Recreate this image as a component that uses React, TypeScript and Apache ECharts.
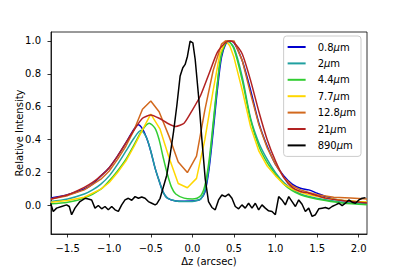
import React, { useEffect, useRef } from "react";
import * as echarts from "echarts";

const seriesNames = ["0.8μm", "2μm", "4.4μm", "7.7μm", "12.8μm", "21μm", "890μm"];
const seriesColors = ["#0000CD", "#20A0A0", "#32CD32", "#FFD700", "#D2691E", "#B22222", "#000000"];

const xTicks = [-1.5, -1.0, -0.5, 0.0, 0.5, 1.0, 1.5, 2.0];
const yTicks = [0.0, 0.2, 0.4, 0.6, 0.8, 1.0];

const blue08: number[][] = [
  [-1.7, 0.045], [-1.5, 0.065], [-1.3, 0.1], [-1.2, 0.13], [-1.1, 0.18], [-1.0, 0.23], [-0.9, 0.3],
  [-0.8, 0.38], [-0.7, 0.465], [-0.65, 0.49], [-0.6, 0.465], [-0.55, 0.41], [-0.5, 0.33], [-0.45, 0.23],
  [-0.4, 0.15], [-0.35, 0.08], [-0.3, 0.045], [-0.2, 0.028], [-0.1, 0.026], [0.0, 0.027], [0.05, 0.03],
  [0.1, 0.04], [0.15, 0.08], [0.2, 0.22], [0.25, 0.45], [0.3, 0.7], [0.35, 0.9], [0.4, 0.98], [0.45, 1.0],
  [0.5, 0.99], [0.6, 0.88], [0.7, 0.7], [0.8, 0.5], [0.9, 0.36], [1.0, 0.25], [1.1, 0.18], [1.2, 0.13],
  [1.3, 0.105], [1.4, 0.095], [1.5, 0.075], [1.6, 0.055], [1.7, 0.04], [1.8, 0.03], [2.0, 0.022], [2.1, 0.02],
];

const teal2: number[][] = [
  [-1.7, 0.025], [-1.5, 0.04], [-1.3, 0.07], [-1.2, 0.095], [-1.1, 0.13], [-1.0, 0.18], [-0.9, 0.25],
  [-0.8, 0.33], [-0.7, 0.41], [-0.62, 0.455], [-0.55, 0.41], [-0.5, 0.33], [-0.45, 0.23], [-0.4, 0.15],
  [-0.35, 0.08], [-0.3, 0.045], [-0.2, 0.028], [-0.1, 0.025], [0.0, 0.025], [0.05, 0.03], [0.1, 0.04],
  [0.15, 0.09], [0.2, 0.24], [0.25, 0.48], [0.3, 0.73], [0.35, 0.92], [0.42, 1.0], [0.5, 0.96], [0.6, 0.78],
  [0.7, 0.53], [0.8, 0.38], [0.9, 0.28], [1.0, 0.2], [1.1, 0.14], [1.2, 0.1], [1.3, 0.07], [1.4, 0.055],
  [1.6, 0.035], [1.8, 0.02], [2.1, 0.01],
];

const green44: number[][] = [
  [-1.7, 0.01], [-1.5, 0.02], [-1.3, 0.045], [-1.1, 0.1], [-1.0, 0.15], [-0.9, 0.21], [-0.8, 0.28],
  [-0.7, 0.37], [-0.6, 0.46], [-0.52, 0.5], [-0.45, 0.47], [-0.4, 0.4], [-0.35, 0.29], [-0.3, 0.19],
  [-0.25, 0.11], [-0.2, 0.07], [-0.1, 0.045], [0.0, 0.04], [0.1, 0.06], [0.15, 0.12], [0.2, 0.27],
  [0.25, 0.5], [0.3, 0.74], [0.35, 0.92], [0.43, 1.0], [0.5, 0.95], [0.6, 0.76], [0.7, 0.52], [0.8, 0.36],
  [0.9, 0.26], [1.0, 0.19], [1.1, 0.13], [1.2, 0.09], [1.3, 0.065], [1.4, 0.05], [1.6, 0.03], [1.8, 0.015],
  [2.1, 0.005],
];

const yellow77: number[][] = [
  [-1.7, 0.02], [-1.5, 0.03], [-1.3, 0.05], [-1.1, 0.1], [-1.0, 0.14], [-0.9, 0.2], [-0.8, 0.27],
  [-0.7, 0.36], [-0.6, 0.46], [-0.5, 0.555], [-0.39, 0.466], [-0.28, 0.29], [-0.17, 0.134], [-0.06, 0.108],
  [0.05, 0.165], [0.15, 0.4], [0.25, 0.7], [0.33, 0.92], [0.4, 1.0], [0.45, 0.97], [0.5, 0.9], [0.6, 0.7],
  [0.7, 0.48], [0.8, 0.33], [0.9, 0.24], [1.0, 0.18], [1.1, 0.13], [1.2, 0.1], [1.3, 0.08], [1.4, 0.065],
  [1.6, 0.045], [1.8, 0.032], [2.0, 0.025], [2.1, 0.022],
];

const orange128: number[][] = [
  [-1.7, 0.04], [-1.5, 0.06], [-1.3, 0.095], [-1.1, 0.16], [-1.0, 0.21], [-0.9, 0.28], [-0.8, 0.36],
  [-0.7, 0.46], [-0.6, 0.585], [-0.5, 0.635], [-0.4, 0.57], [-0.28, 0.42], [-0.17, 0.265], [-0.06, 0.2],
  [0.05, 0.3], [0.15, 0.58], [0.25, 0.82], [0.35, 0.98], [0.4, 1.0], [0.5, 1.0], [0.6, 0.88], [0.7, 0.68],
  [0.8, 0.49], [0.9, 0.35], [1.0, 0.25], [1.1, 0.17], [1.2, 0.12], [1.3, 0.095], [1.4, 0.08], [1.5, 0.065],
  [1.7, 0.05], [1.9, 0.045], [2.1, 0.04],
];

const red21: number[][] = [
  [-1.7, 0.04], [-1.5, 0.065], [-1.3, 0.11], [-1.2, 0.14], [-1.1, 0.18], [-1.0, 0.23], [-0.9, 0.3],
  [-0.8, 0.38], [-0.7, 0.46], [-0.6, 0.53], [-0.5, 0.55], [-0.4, 0.53], [-0.3, 0.5], [-0.2, 0.48],
  [-0.1, 0.5], [0.0, 0.58], [0.1, 0.67], [0.2, 0.8], [0.3, 0.93], [0.4, 0.99], [0.45, 1.0], [0.5, 0.99],
  [0.6, 0.92], [0.7, 0.76], [0.8, 0.57], [0.9, 0.4], [1.0, 0.27], [1.1, 0.17], [1.2, 0.11], [1.3, 0.085],
  [1.4, 0.075], [1.5, 0.06], [1.6, 0.045], [1.8, 0.03], [2.1, 0.015],
];

const black890: number[][] = [
  [-1.705, 0.014], [-1.673, -0.036], [-1.633, -0.016], [-1.573, -0.006], [-1.512, 0.004], [-1.48, -0.006],
  [-1.452, -0.056], [-1.412, -0.016], [-1.352, 0.024], [-1.291, 0.044], [-1.251, 0.04], [-1.211, 0.034],
  [-1.171, -0.016], [-1.131, 0.0], [-1.091, -0.02], [-1.051, -0.006], [-1.011, -0.026], [-0.97, -0.006],
  [-0.93, -0.026], [-0.89, -0.036], [-0.85, 0.004], [-0.81, 0.034], [-0.77, 0.044], [-0.729, 0.032],
  [-0.689, 0.054], [-0.649, 0.044], [-0.609, 0.052], [-0.569, 0.044], [-0.529, 0.024], [-0.488, 0.014],
  [-0.448, 0.004], [-0.428, 0.01], [-0.388, 0.044], [-0.348, 0.114], [-0.308, 0.184], [-0.268, 0.305],
  [-0.227, 0.446], [-0.187, 0.606], [-0.147, 0.787], [-0.115, 0.837], [-0.087, 0.857], [-0.059, 0.907],
  [-0.027, 0.998], [0.006, 0.988], [0.034, 0.887], [0.074, 0.667], [0.114, 0.405], [0.154, 0.164],
  [0.194, 0.024], [0.235, -0.012], [0.275, -0.026], [0.315, 0.034], [0.355, 0.064], [0.395, 0.054],
  [0.435, 0.07], [0.476, 0.044], [0.516, -0.006], [0.556, -0.02], [0.596, 0.004], [0.636, -0.016],
  [0.676, 0.014], [0.717, -0.016], [0.757, 0.014], [0.797, -0.026], [0.837, 0.004], [0.877, -0.016],
  [0.917, -0.032], [0.958, -0.036], [0.998, -0.056], [1.038, 0.054], [1.078, 0.034], [1.118, 0.004],
  [1.159, 0.054], [1.199, 0.024], [1.239, -0.006], [1.279, 0.034], [1.319, 0.008], [1.359, -0.036],
  [1.399, -0.016], [1.44, -0.066], [1.48, -0.056], [1.52, -0.02], [1.56, -0.016], [1.6, -0.012],
  [1.64, -0.02], [1.68, -0.006], [1.721, 0.004], [1.761, 0.014], [1.801, 0.0], [1.841, 0.014],
  [1.881, 0.034], [1.921, 0.02], [1.961, 0.014], [2.002, 0.034], [2.042, 0.044], [2.082, 0.048],
];

const seriesData = [blue08, teal2, green44, yellow77, orange128, red21, black890];
const smoothFlags = [0.3, 0.3, 0.3, 0, 0, 0.2, 0];

const FONT = "DejaVu Sans";
const fmt = (v: number) => (v < 0 ? "\u2212" : "") + Math.abs(v).toFixed(1);

export default function App() {
  const ref = useRef<HTMLDivElement>(null);
  useEffect(() => {
    if (!ref.current) return;
    const chart = echarts.init(ref.current, null, { renderer: "svg" });
    chart.setOption({
      animation: false,
      backgroundColor: "#ffffff",
      textStyle: { fontFamily: FONT },
      grid: {
        left: 51,
        right: 40,
        top: 32,
        bottom: 35,
        show: true,
        borderColor: "#000",
        borderWidth: 0.8,
        backgroundColor: "transparent",
      },
      legend: {
        orient: "vertical",
        right: 46,
        top: 36,
        icon: "rect",
        itemWidth: 18,
        itemHeight: 2,
        itemGap: 4.4,
        padding: [5, 5, 5, 4],
        backgroundColor: "rgba(255,255,255,0.8)",
        borderColor: "#cccccc",
        borderWidth: 1,
        borderRadius: 3,
        data: seriesNames,
        formatter: (name: string) => {
          const base = name.replace("μm", "");
          return `{n|${base}}{g|μ}{n|m}`;
        },
        textStyle: {
          color: "#000",
          fontFamily: FONT,
          fontSize: 10,
          lineHeight: 12,
          padding: [0, 0, 0, 7],
          rich: {
            n: { fontFamily: FONT, fontSize: 10, lineHeight: 12, color: "#000" },
            g: { fontFamily: FONT, fontSize: 10, lineHeight: 12, fontStyle: "italic", color: "#000" },
          },
        },
      },
      xAxis: {
        type: "value",
        min: -1.7,
        max: 2.1,
        name: "Δz (arcsec)",
        nameLocation: "middle",
        nameGap: 22,
        nameMoveOverlap: false,
        nameTextStyle: { color: "#000", fontSize: 10, fontFamily: FONT },
        axisLine: { show: true, onZero: false, lineStyle: { color: "#000", width: 0.8 } },
        axisTick: { show: true, length: 3.5, lineStyle: { color: "#000", width: 0.8 }, customValues: xTicks },
        axisLabel: {
          color: "#000",
          fontSize: 10,
          fontFamily: FONT,
          margin: 9,
          customValues: xTicks,
          formatter: (v: number) => fmt(v),
        },
        splitLine: { show: false },
      },
      yAxis: {
        type: "value",
        min: -0.173,
        max: 1.054,
        name: "Relative Intensity",
        nameLocation: "middle",
        nameGap: 27,
        nameMoveOverlap: false,
        nameTextStyle: { color: "#000", fontSize: 10, fontFamily: FONT },
        axisLine: { show: true, onZero: false, lineStyle: { color: "#000", width: 0.8 } },
        axisTick: { show: true, length: 3.5, lineStyle: { color: "#000", width: 0.8 }, customValues: yTicks },
        axisLabel: {
          color: "#000",
          fontSize: 10,
          fontFamily: FONT,
          margin: 10,
          customValues: yTicks,
          formatter: (v: number) => fmt(v),
        },
        splitLine: { show: false },
      },
      series: seriesNames.map((name, i) => ({
        name,
        type: "line",
        data: seriesData[i],
        symbol: "none",
        smooth: smoothFlags[i],
        clip: true,
        lineStyle: { color: seriesColors[i], width: 1.5 },
        itemStyle: { color: seriesColors[i] },
        z: 2 + i,
      })),
    });
    return () => chart.dispose();
  }, []);
  return <div ref={ref} style={{ position: "fixed", left: 0, top: 0, width: 407, height: 271 }} />;
}
